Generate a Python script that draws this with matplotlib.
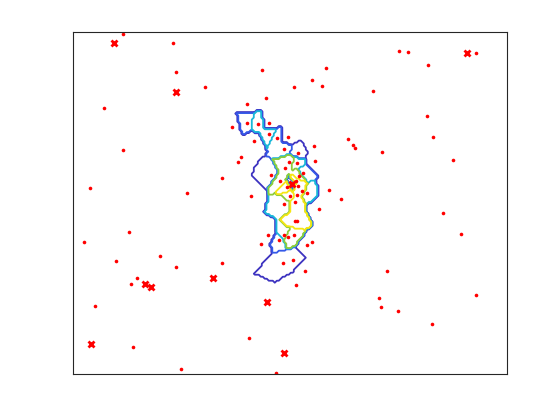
import numpy as np
import matplotlib
matplotlib.use('Agg')
import matplotlib.pyplot as plt

# background points (value 0)
bg_x = [50, 100, 103, 132, 31, 174, 159, 189, 253, 239, 221, 249, 193, 326, 335, 403,
        355, 300, 354, 360, 275, 280, 282, 309, 380, 241, 181, 168, 165, 149, 242, 256,
        268, 246, 370, 388, 239, 234, 232, 314, 403, 306, 308, 325, 359, 50, 17, 114,
        56, 11, 87, 43, 103, 149, 64, 58, 22, 60, 176, 108, 203, 223, 178, 188, 195,
        196, 215]
bg_y = [339, 330, 301, 286, 265, 269, 246, 303, 305, 293, 286, 287, 275, 322, 321, 320,
        308, 282, 257, 236, 234, 228, 225, 221, 213, 227, 232, 216, 211, 195, 212, 183,
        174, 164, 160, 139, 131, 128, 102, 102, 78, 75, 66, 62, 49, 223, 185, 180,
        141, 131, 117, 112, 106, 110, 95, 89, 67, 26, 35, 4, 0, 88, 177, 129, 138,
        250, 236]

# points inside the cluster and their level
cl_x = [174, 185, 196, 204, 211, 225, 216, 224, 212, 230, 198, 226, 207, 223,
        225, 214, 229, 234, 224, 217, 222, 211, 222, 224, 211, 221, 215, 206, 210, 220]
cl_y = [250, 249, 239, 235, 224, 220, 211, 210, 205, 200, 198, 197, 192, 192,
        187, 186, 182, 180, 178, 177, 171, 169, 152, 152, 138, 138, 136, 133, 110, 113]
cl_level = [2, 3, 3, 2, 2, 1, 4, 3, 4, 2, 1, 4, 4, 5,
            5, 5, 5, 3, 5, 4, 5, 3, 5, 5, 3, 4, 4, 2, 1, 1]

# cross markers
cx = [41, 103, 394, 72, 78, 140, 194, 18, 211, 219]
cy = [330, 281, 320, 89, 86, 95, 71, 29, 20, 189]

levels = [0.5, 1.5, 2.5, 3.5, 4.5]
line_colors = ['#3d33c0', '#3559e8', '#1ab8d8', '#8fcc3a', '#f5e614']

# nearest-site field (voronoi cells)
sx = np.array(bg_x + cx + cl_x, dtype=float)
sy = np.array(bg_y + cy + cl_y, dtype=float)
sv = np.array([0] * len(bg_x) + [0] * len(cx) + cl_level, dtype=float)
gx = np.arange(140, 270, 2.0)
gy = np.arange(75, 285, 2.0)
GX, GY = np.meshgrid(gx, gy)
d2 = (GX[..., None] - sx) ** 2 + (GY[..., None] - sy) ** 2
Z = sv[np.argmin(d2, axis=2)]

fig = plt.figure(figsize=(5.6, 4.2), dpi=100)
ax = fig.add_axes([0.13, 0.11, 0.775, 0.815])
ax.contour(GX, GY, Z, levels=levels, colors=line_colors, linewidths=1.3)
ax.plot(bg_x + cl_x, bg_y + cl_y, 'o', color='red', markersize=2.6, markeredgewidth=0)
ax.plot(cx, cy, 'x', color='red', markersize=5, markeredgewidth=2)
ax.set_xlim(0, 434)
ax.set_ylim(-1, 341)
ax.set_xticks([])
ax.set_yticks([])
for s in ax.spines.values():
    s.set_color('#262626')
    s.set_linewidth(0.8)
fig.savefig('out.png')
